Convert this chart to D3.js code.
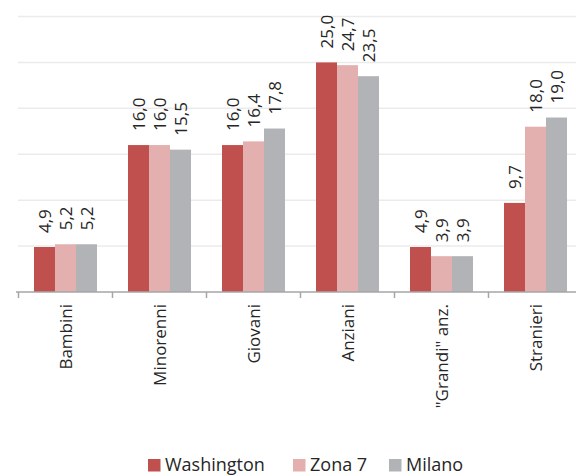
<!DOCTYPE html>
<html>
<head>
<meta charset="utf-8">
<script src="https://cdn.jsdelivr.net/npm/d3@7"></script>
<style>
  html, body { margin: 0; padding: 0; background: #fff; }
  svg { display: block; }
  text { font-family: "Open Sans", sans-serif; fill: #262626; }
</style>
</head>
<body>
<svg id="chart" width="576" height="476"></svg>
<script>
const categories = ["Bambini", "Minorenni", "Giovani", "Anziani", "\"Grandi\" anz.", "Stranieri"];
const seriesNames = ["Washington", "Zona 7", "Milano"];
const washington = [4.9, 16.0, 16.0, 25.0, 4.9, 9.7];
const zona7 = [5.2, 16.0, 16.4, 24.7, 3.9, 18.0];
const milano = [5.2, 15.5, 17.8, 23.5, 3.9, 19.0];
const seriesValues = [washington, zona7, milano];
const colors = ["#c0504d", "#e3afaf", "#b2b3b6"];
const yTicks = [0, 5, 10, 15, 20, 25, 30];

const svg = d3.select("#chart");
const fmt = v => d3.format(".1f")(v).replace(".", ",");

const x0 = d3.scaleBand().domain(categories).range([18.5, 582.5]).padding(0);
const x1 = d3.scaleBand().domain(seriesNames).range([15.5, 78.5]).padding(0);
const y = d3.scaleLinear().domain([0, 30]).range([292, 16.5]);

// gridlines
svg.append("g").selectAll("line")
  .data(yTicks.filter(t => t > 0))
  .join("line")
  .attr("x1", 18).attr("x2", 576)
  .attr("y1", d => y(d)).attr("y2", d => y(d))
  .attr("stroke", "#ebebeb").attr("stroke-width", 1.5);

// bars
const groups = svg.append("g").selectAll("g")
  .data(categories)
  .join("g")
  .attr("transform", d => `translate(${x0(d)},0)`);

groups.selectAll("rect")
  .data((d, i) => seriesNames.map((s, j) => ({ s, v: seriesValues[j][i], j })))
  .join("rect")
  .attr("x", d => x1(d.s))
  .attr("width", x1.bandwidth())
  .attr("y", d => y(d.v))
  .attr("height", d => y(0) - y(d.v))
  .attr("fill", d => colors[d.j]);

// value labels
groups.selectAll("text.val")
  .data((d, i) => seriesNames.map((s, j) => ({ s, v: seriesValues[j][i], j })))
  .join("text")
  .attr("class", "val")
  .attr("transform", d => `translate(${x1(d.s) + x1.bandwidth() / 2},${y(d.v) - 14}) rotate(-90)`)
  .attr("dy", "0.36em")
  .attr("text-anchor", "start")
  .style("font-size", "17px")
  .text(d => fmt(d.v));

// x axis
const axisG = svg.append("g").attr("transform", `translate(0,${y(0)})`);
axisG.append("line")
  .attr("x1", 16).attr("x2", 576).attr("y1", 0).attr("y2", 0)
  .attr("stroke", "#a6a6a6").attr("stroke-width", 1.5);
const boundaries = categories.map(c => x0(c)).concat([x0.range()[1]]);
axisG.selectAll("line.tick")
  .data(boundaries)
  .join("line")
  .attr("class", "tick")
  .attr("x1", d => d).attr("x2", d => d)
  .attr("y1", 0).attr("y2", 6)
  .attr("stroke", "#a6a6a6").attr("stroke-width", 1.5);
axisG.selectAll("text.cat")
  .data(categories)
  .join("text")
  .attr("class", "cat")
  .attr("transform", d => `translate(${x0(d) + x0.bandwidth() / 2},12) rotate(-90)`)
  .attr("dy", "0.4em")
  .attr("text-anchor", "end")
  .style("font-size", "17px")
  .text(d => d);

// legend
const legendX = [148, 293, 389];
const legend = svg.append("g").selectAll("g")
  .data(seriesNames)
  .join("g")
  .attr("transform", (d, i) => `translate(${legendX[i]},0)`);
legend.append("rect")
  .attr("x", 0).attr("y", 459).attr("width", 12.5).attr("height", 12.5)
  .attr("fill", (d, i) => colors[i]);
legend.append("text")
  .attr("x", 17).attr("y", 471)
  .style("font-size", "18px")
  .text(d => d);
</script>
</body>
</html>
